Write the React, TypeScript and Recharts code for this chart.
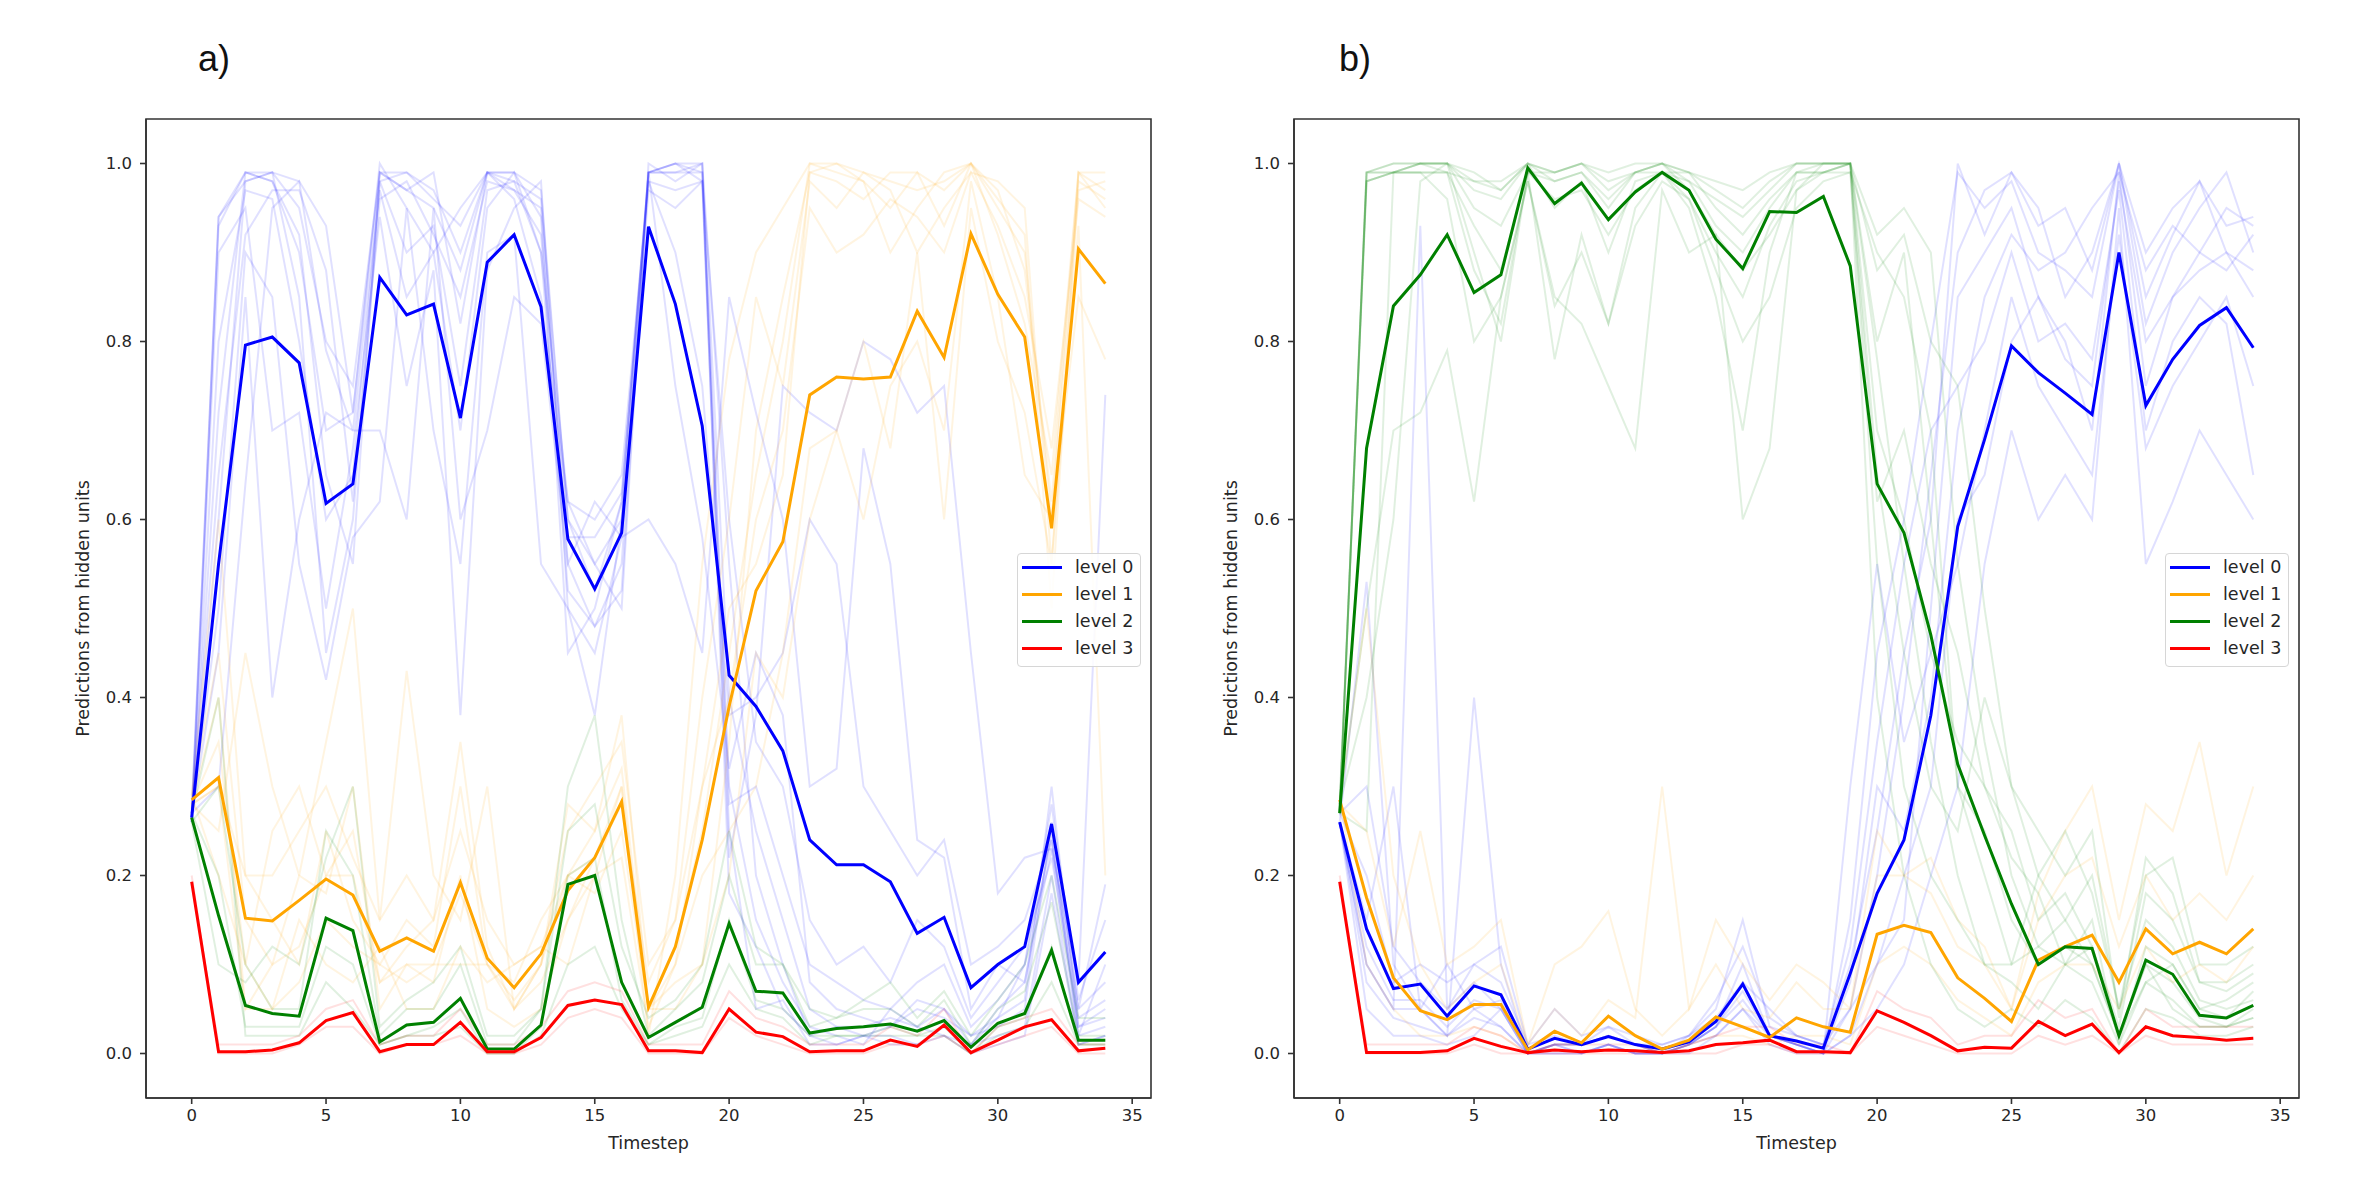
import { LineChart, Line, XAxis, YAxis, ReferenceArea } from "recharts";

// time steps 0..34
const STEPS = Array.from({ length: 35 }, (_, i) => i);
const X_TICKS = [0, 5, 10, 15, 20, 25, 30, 35];
const Y_TICKS = [0, 0.2, 0.4, 0.6, 0.8, 1.0];
const LEVELS = ["level 0", "level 1", "level 2", "level 3"];
const COLORS = ["#0000ff", "#ffa500", "#008000", "#ff0000"];

// ---- panel a) mean predictions ----
const A_L0 = [0.265, 0.55, 0.796, 0.805, 0.776, 0.618, 0.64, 0.872, 0.83, 0.842, 0.714, 0.889, 0.92, 0.839, 0.578, 0.522, 0.585, 0.929, 0.842, 0.705, 0.425, 0.39, 0.34, 0.24, 0.212, 0.212, 0.193, 0.135, 0.153, 0.074, 0.1, 0.12, 0.258, 0.08, 0.114];
const A_L1 = [0.285, 0.31, 0.152, 0.149, 0.172, 0.196, 0.178, 0.115, 0.13, 0.115, 0.192, 0.107, 0.074, 0.112, 0.183, 0.22, 0.283, 0.052, 0.12, 0.24, 0.39, 0.52, 0.575, 0.74, 0.76, 0.758, 0.76, 0.834, 0.782, 0.921, 0.853, 0.805, 0.59, 0.904, 0.865];
const A_L2 = [0.265, 0.155, 0.054, 0.045, 0.042, 0.152, 0.138, 0.013, 0.032, 0.035, 0.062, 0.005, 0.005, 0.032, 0.19, 0.2, 0.08, 0.018, 0.035, 0.052, 0.146, 0.07, 0.068, 0.023, 0.028, 0.03, 0.033, 0.025, 0.037, 0.007, 0.034, 0.045, 0.116, 0.015, 0.015];
const A_L3 = [0.193, 0.002, 0.002, 0.004, 0.012, 0.037, 0.046, 0.002, 0.01, 0.01, 0.035, 0.002, 0.002, 0.018, 0.054, 0.06, 0.055, 0.003, 0.003, 0.001, 0.05, 0.024, 0.019, 0.002, 0.003, 0.003, 0.015, 0.008, 0.032, 0.001, 0.015, 0.03, 0.038, 0.003, 0.006];

// ---- panel a) individual hidden units ----
const A_L0_UNITS = [
  [0.27, 0.94, 0.99, 0.98, 0.9, 0.7, 0.72, 0.99, 0.97, 0.95, 0.88, 0.99, 0.98, 0.96, 0.6, 0.52, 0.62, 0.99, 0.99, 1.0, 0.55, 0.2, 0.1, 0.02, 0.01, 0.02, 0.02, 0.01, 0.03, 0.01, 0.02, 0.03, 0.2, 0.01, 0.02],
  [0.26, 0.6, 0.98, 0.99, 0.85, 0.45, 0.6, 0.98, 0.99, 0.96, 0.93, 0.99, 0.97, 0.95, 0.55, 0.48, 0.55, 0.99, 1.0, 0.99, 0.3, 0.15, 0.08, 0.03, 0.02, 0.01, 0.05, 0.03, 0.02, 0.01, 0.05, 0.08, 0.25, 0.02, 0.03],
  [0.27, 0.3, 0.64, 0.95, 0.98, 0.79, 0.7, 0.97, 0.85, 0.9, 0.7, 0.95, 0.99, 0.9, 0.62, 0.6, 0.65, 0.98, 0.9, 0.75, 0.38, 0.4, 0.45, 0.6, 0.55, 0.3, 0.25, 0.2, 0.24, 0.1, 0.12, 0.15, 0.24, 0.05, 0.19],
  [0.26, 0.9, 0.95, 0.7, 0.72, 0.5, 0.68, 0.94, 0.75, 0.88, 0.38, 0.88, 0.95, 0.98, 0.5, 0.45, 0.58, 0.97, 0.95, 0.98, 0.25, 0.05, 0.06, 0.01, 0.01, 0.02, 0.01, 0.01, 0.02, 0.0, 0.01, 0.02, 0.18, 0.01, 0.02],
  [0.27, 0.45, 0.85, 0.4, 0.6, 0.72, 0.7, 0.7, 0.6, 0.95, 0.6, 0.7, 0.85, 0.82, 0.55, 0.62, 0.58, 0.6, 0.55, 0.45, 0.85, 0.72, 0.6, 0.3, 0.32, 0.68, 0.55, 0.24, 0.22, 0.05, 0.1, 0.08, 0.23, 0.02, 0.1],
  [0.26, 0.93, 0.99, 0.99, 0.98, 0.93, 0.72, 1.0, 0.95, 0.9, 0.95, 0.99, 0.96, 0.85, 0.62, 0.55, 0.5, 1.0, 0.98, 1.0, 0.18, 0.12, 0.05, 0.02, 0.03, 0.02, 0.03, 0.05, 0.04, 0.02, 0.03, 0.05, 0.26, 0.05, 0.08],
  [0.27, 0.5, 0.9, 0.85, 0.55, 0.42, 0.58, 0.62, 0.95, 0.7, 0.55, 0.9, 0.92, 0.55, 0.5, 0.38, 0.6, 0.99, 0.75, 0.58, 0.32, 0.45, 0.38, 0.08, 0.05, 0.04, 0.03, 0.06, 0.05, 0.02, 0.04, 0.1, 0.24, 0.03, 0.04],
  [0.26, 0.72, 0.99, 0.98, 0.92, 0.65, 0.55, 0.99, 0.97, 0.99, 0.82, 0.99, 0.99, 0.94, 0.45, 0.5, 0.62, 0.99, 1.0, 0.98, 0.22, 0.38, 0.75, 0.72, 0.7, 0.8, 0.78, 0.72, 0.75, 0.45, 0.18, 0.22, 0.23, 0.08, 0.74],
  [0.27, 0.94, 0.98, 0.99, 0.95, 0.8, 0.75, 0.99, 0.99, 0.97, 0.9, 0.99, 0.99, 0.97, 0.6, 0.55, 0.6, 0.99, 1.0, 1.0, 0.4, 0.25, 0.15, 0.05, 0.03, 0.03, 0.04, 0.03, 0.05, 0.01, 0.04, 0.06, 0.3, 0.03, 0.05],
  [0.26, 0.8, 0.97, 0.96, 0.8, 0.6, 0.65, 0.98, 0.9, 0.93, 0.75, 0.97, 0.98, 0.9, 0.52, 0.48, 0.52, 0.99, 0.99, 0.99, 0.28, 0.3, 0.2, 0.1, 0.08, 0.06, 0.05, 0.08, 0.1, 0.03, 0.06, 0.1, 0.28, 0.06, 0.15],
  [0.27, 0.65, 0.92, 0.97, 0.97, 0.88, 0.62, 0.96, 0.98, 0.92, 0.85, 0.98, 0.97, 0.92, 0.58, 0.58, 0.63, 0.98, 0.97, 0.98, 0.6, 0.35, 0.3, 0.15, 0.1, 0.12, 0.08, 0.15, 0.12, 0.04, 0.08, 0.12, 0.22, 0.04, 0.06],
];
const A_L1_UNITS = [
  [0.28, 0.3, 0.05, 0.1, 0.2, 0.18, 0.3, 0.05, 0.1, 0.08, 0.2, 0.05, 0.03, 0.05, 0.15, 0.2, 0.3, 0.02, 0.2, 0.55, 0.78, 0.9, 0.95, 1.0, 0.99, 0.98, 0.95, 0.99, 0.93, 1.0, 0.95, 0.9, 0.6, 0.98, 0.96],
  [0.29, 0.6, 0.2, 0.15, 0.1, 0.25, 0.15, 0.1, 0.15, 0.12, 0.3, 0.1, 0.08, 0.15, 0.2, 0.18, 0.25, 0.05, 0.05, 0.1, 0.35, 0.7, 0.85, 0.99, 1.0, 0.98, 0.9, 0.95, 0.99, 1.0, 0.92, 0.82, 0.65, 0.99, 0.95],
  [0.28, 0.25, 0.45, 0.3, 0.2, 0.35, 0.5, 0.15, 0.43, 0.2, 0.15, 0.3, 0.05, 0.1, 0.25, 0.3, 0.35, 0.1, 0.15, 0.4, 0.6, 0.85, 0.75, 0.98, 0.95, 0.99, 0.97, 0.9, 0.95, 0.99, 0.98, 0.95, 0.55, 0.97, 0.98],
  [0.28, 0.35, 0.1, 0.05, 0.15, 0.1, 0.08, 0.12, 0.05, 0.05, 0.12, 0.08, 0.1, 0.12, 0.1, 0.2, 0.22, 0.03, 0.1, 0.2, 0.25, 0.3, 0.45, 0.68, 0.7, 0.6, 0.75, 0.8, 0.7, 0.98, 0.85, 0.65, 0.6, 0.85, 0.78],
  [0.29, 0.2, 0.1, 0.25, 0.3, 0.2, 0.25, 0.08, 0.12, 0.15, 0.35, 0.12, 0.05, 0.1, 0.28, 0.25, 0.38, 0.05, 0.1, 0.3, 0.5, 0.55, 0.65, 0.99, 0.98, 0.96, 0.99, 0.99, 0.97, 1.0, 0.96, 0.92, 0.5, 0.99, 0.99],
  [0.28, 0.4, 0.05, 0.05, 0.08, 0.15, 0.12, 0.1, 0.08, 0.1, 0.1, 0.1, 0.05, 0.08, 0.15, 0.22, 0.3, 0.05, 0.08, 0.1, 0.2, 0.45, 0.4, 0.6, 0.7, 0.8, 0.68, 0.9, 0.6, 0.95, 0.8, 0.72, 0.55, 0.93, 0.2],
  [0.29, 0.45, 0.15, 0.1, 0.12, 0.2, 0.2, 0.08, 0.1, 0.1, 0.18, 0.1, 0.06, 0.1, 0.2, 0.25, 0.32, 0.05, 0.12, 0.25, 0.45, 0.65, 0.8, 1.0, 1.0, 0.99, 0.98, 0.97, 0.98, 1.0, 0.97, 0.88, 0.62, 0.99, 0.97],
  [0.28, 0.3, 0.2, 0.2, 0.25, 0.3, 0.22, 0.15, 0.2, 0.15, 0.25, 0.15, 0.1, 0.12, 0.2, 0.22, 0.28, 0.08, 0.15, 0.3, 0.4, 0.6, 0.7, 0.95, 0.9, 0.92, 0.96, 0.94, 0.9, 0.99, 0.93, 0.85, 0.68, 0.96, 0.94],
];
const A_L2_UNITS = [
  [0.26, 0.3, 0.1, 0.05, 0.05, 0.25, 0.2, 0.02, 0.05, 0.05, 0.1, 0.01, 0.01, 0.05, 0.3, 0.38, 0.15, 0.02, 0.05, 0.08, 0.2, 0.1, 0.1, 0.03, 0.04, 0.05, 0.05, 0.03, 0.06, 0.01, 0.05, 0.07, 0.17, 0.02, 0.02],
  [0.27, 0.4, 0.02, 0.02, 0.02, 0.08, 0.05, 0.01, 0.02, 0.02, 0.03, 0.0, 0.0, 0.02, 0.1, 0.12, 0.05, 0.01, 0.02, 0.03, 0.1, 0.05, 0.04, 0.01, 0.02, 0.02, 0.02, 0.02, 0.02, 0.0, 0.02, 0.03, 0.08, 0.01, 0.01],
  [0.26, 0.1, 0.08, 0.12, 0.1, 0.22, 0.3, 0.03, 0.06, 0.08, 0.12, 0.02, 0.02, 0.05, 0.25, 0.28, 0.12, 0.04, 0.06, 0.1, 0.25, 0.12, 0.1, 0.05, 0.04, 0.06, 0.08, 0.04, 0.07, 0.02, 0.06, 0.1, 0.2, 0.04, 0.04],
  [0.27, 0.2, 0.03, 0.03, 0.03, 0.12, 0.1, 0.01, 0.02, 0.03, 0.05, 0.0, 0.0, 0.03, 0.2, 0.22, 0.06, 0.01, 0.03, 0.04, 0.15, 0.06, 0.05, 0.02, 0.02, 0.02, 0.03, 0.02, 0.03, 0.0, 0.03, 0.04, 0.12, 0.01, 0.01],
];
const A_L3_UNITS = [
  [0.19, 0.01, 0.01, 0.01, 0.02, 0.05, 0.06, 0.01, 0.02, 0.02, 0.05, 0.01, 0.01, 0.03, 0.07, 0.08, 0.07, 0.01, 0.01, 0.01, 0.07, 0.04, 0.03, 0.01, 0.01, 0.01, 0.03, 0.02, 0.05, 0.0, 0.03, 0.04, 0.05, 0.01, 0.01],
  [0.2, 0.0, 0.0, 0.0, 0.01, 0.03, 0.03, 0.0, 0.01, 0.01, 0.02, 0.0, 0.0, 0.01, 0.04, 0.05, 0.04, 0.0, 0.0, 0.0, 0.04, 0.02, 0.01, 0.0, 0.0, 0.0, 0.01, 0.01, 0.02, 0.0, 0.01, 0.02, 0.03, 0.0, 0.0],
];

// ---- panel b) mean predictions ----
const B_L0 = [0.26, 0.14, 0.073, 0.078, 0.042, 0.076, 0.066, 0.005, 0.017, 0.01, 0.019, 0.01, 0.005, 0.013, 0.036, 0.078, 0.02, 0.014, 0.006, 0.09, 0.18, 0.24, 0.38, 0.592, 0.69, 0.795, 0.765, 0.742, 0.718, 0.9, 0.728, 0.78, 0.818, 0.838, 0.793];
const B_L1 = [0.285, 0.175, 0.085, 0.048, 0.038, 0.055, 0.055, 0.004, 0.025, 0.012, 0.042, 0.02, 0.005, 0.015, 0.041, 0.03, 0.018, 0.04, 0.03, 0.024, 0.134, 0.144, 0.136, 0.085, 0.062, 0.036, 0.105, 0.12, 0.133, 0.08, 0.14, 0.112, 0.125, 0.112, 0.14];
const B_L2 = [0.27, 0.68, 0.84, 0.875, 0.92, 0.855, 0.875, 0.995, 0.955, 0.978, 0.937, 0.968, 0.99, 0.97, 0.915, 0.882, 0.946, 0.945, 0.963, 0.885, 0.64, 0.585, 0.47, 0.325, 0.245, 0.168, 0.1, 0.12, 0.118, 0.02, 0.105, 0.089, 0.043, 0.04, 0.054];
const B_L3 = [0.193, 0.001, 0.001, 0.001, 0.003, 0.017, 0.008, 0.001, 0.004, 0.002, 0.004, 0.003, 0.001, 0.003, 0.01, 0.012, 0.015, 0.002, 0.002, 0.001, 0.048, 0.035, 0.02, 0.003, 0.007, 0.006, 0.036, 0.02, 0.033, 0.001, 0.03, 0.02, 0.018, 0.015, 0.017];

// ---- panel b) individual hidden units ----
const B_L0_UNITS = [
  [0.26, 0.1, 0.05, 0.93, 0.05, 0.08, 0.05, 0.0, 0.01, 0.0, 0.01, 0.0, 0.0, 0.01, 0.03, 0.1, 0.02, 0.01, 0.0, 0.15, 0.45, 0.6, 0.8, 0.99, 0.95, 0.98, 0.9, 0.88, 0.85, 1.0, 0.82, 0.9, 0.95, 0.99, 0.9],
  [0.26, 0.53, 0.1, 0.05, 0.02, 0.4, 0.1, 0.0, 0.01, 0.01, 0.02, 0.01, 0.0, 0.02, 0.05, 0.15, 0.03, 0.02, 0.01, 0.05, 0.1, 0.15, 0.5, 0.85, 0.9, 0.95, 0.85, 0.78, 0.75, 0.98, 0.8, 0.85, 0.88, 0.9, 0.85],
  [0.26, 0.05, 0.02, 0.02, 0.01, 0.02, 0.05, 0.0, 0.0, 0.0, 0.01, 0.0, 0.0, 0.0, 0.02, 0.05, 0.01, 0.0, 0.0, 0.02, 0.05, 0.1, 0.2, 0.3, 0.55, 0.7, 0.6, 0.65, 0.6, 0.95, 0.55, 0.62, 0.7, 0.65, 0.6],
  [0.27, 0.2, 0.08, 0.1, 0.08, 0.1, 0.12, 0.01, 0.05, 0.02, 0.03, 0.02, 0.01, 0.02, 0.04, 0.08, 0.05, 0.02, 0.01, 0.1, 0.25, 0.45, 0.6, 1.0, 0.92, 0.99, 0.95, 0.85, 0.9, 1.0, 0.9, 0.95, 0.98, 0.93, 0.94],
  [0.26, 0.15, 0.3, 0.05, 0.1, 0.05, 0.06, 0.0, 0.01, 0.01, 0.02, 0.01, 0.0, 0.01, 0.03, 0.08, 0.02, 0.01, 0.0, 0.3, 0.55, 0.35, 0.45, 0.55, 0.7, 0.85, 0.75, 0.7, 0.65, 0.92, 0.68, 0.75, 0.8, 0.85, 0.75],
  [0.26, 0.1, 0.05, 0.05, 0.02, 0.05, 0.03, 0.0, 0.0, 0.0, 0.01, 0.0, 0.0, 0.01, 0.02, 0.05, 0.02, 0.01, 0.0, 0.02, 0.1, 0.2, 0.3, 0.6, 0.65, 0.8, 0.85, 0.8, 0.7, 0.99, 0.75, 0.85, 0.9, 0.88, 0.92],
  [0.26, 0.08, 0.04, 0.03, 0.02, 0.04, 0.03, 0.0, 0.01, 0.0, 0.01, 0.0, 0.0, 0.01, 0.03, 0.06, 0.02, 0.01, 0.0, 0.05, 0.2, 0.4, 0.65, 0.9, 0.97, 0.99, 0.93, 0.95, 0.88, 1.0, 0.85, 0.92, 0.98, 0.9, 0.88],
  [0.27, 0.3, 0.12, 0.08, 0.05, 0.1, 0.08, 0.01, 0.02, 0.01, 0.03, 0.01, 0.01, 0.02, 0.06, 0.12, 0.04, 0.02, 0.01, 0.12, 0.35, 0.55, 0.7, 0.75, 0.8, 0.9, 0.8, 0.82, 0.78, 0.97, 0.7, 0.8, 0.85, 0.82, 0.65],
  [0.26, 0.12, 0.06, 0.06, 0.03, 0.06, 0.05, 0.0, 0.01, 0.01, 0.02, 0.01, 0.0, 0.01, 0.03, 0.07, 0.02, 0.01, 0.0, 0.08, 0.3, 0.25, 0.4, 0.7, 0.85, 0.92, 0.88, 0.9, 0.95, 0.99, 0.88, 0.93, 0.9, 0.95, 0.93],
];
const B_L1_UNITS = [
  [0.28, 0.5, 0.2, 0.1, 0.05, 0.08, 0.1, 0.01, 0.05, 0.02, 0.06, 0.04, 0.3, 0.05, 0.1, 0.05, 0.04, 0.08, 0.05, 0.05, 0.2, 0.2, 0.18, 0.12, 0.1, 0.05, 0.15, 0.2, 0.22, 0.12, 0.2, 0.15, 0.18, 0.15, 0.2],
  [0.29, 0.1, 0.05, 0.02, 0.02, 0.03, 0.02, 0.0, 0.01, 0.01, 0.02, 0.01, 0.0, 0.01, 0.02, 0.02, 0.01, 0.02, 0.02, 0.01, 0.1, 0.12, 0.1, 0.06, 0.04, 0.02, 0.08, 0.1, 0.1, 0.05, 0.12, 0.08, 0.1, 0.08, 0.12],
  [0.28, 0.25, 0.12, 0.25, 0.1, 0.12, 0.15, 0.01, 0.1, 0.12, 0.16, 0.05, 0.02, 0.05, 0.15, 0.1, 0.06, 0.1, 0.08, 0.05, 0.25, 0.2, 0.22, 0.15, 0.12, 0.05, 0.18, 0.25, 0.3, 0.15, 0.28, 0.25, 0.35, 0.2, 0.3],
];
const B_L2_UNITS = [
  [0.27, 0.99, 1.0, 1.0, 1.0, 0.97, 0.96, 1.0, 0.99, 1.0, 0.97, 0.99, 1.0, 0.99, 0.97, 0.95, 0.98, 1.0, 1.0, 1.0, 0.8, 0.9, 0.6, 0.3, 0.25, 0.15, 0.1, 0.12, 0.1, 0.02, 0.1, 0.08, 0.04, 0.03, 0.05],
  [0.28, 0.98, 0.99, 1.0, 1.0, 0.9, 0.8, 0.99, 0.98, 0.99, 0.95, 0.99, 0.99, 0.98, 0.93, 0.9, 0.95, 0.99, 1.0, 1.0, 0.55, 0.3, 0.2, 0.15, 0.1, 0.08, 0.05, 0.1, 0.15, 0.01, 0.12, 0.1, 0.05, 0.06, 0.08],
  [0.27, 0.25, 0.99, 1.0, 0.99, 0.98, 0.97, 1.0, 0.95, 0.98, 0.9, 0.98, 0.99, 0.99, 0.95, 0.92, 0.96, 0.99, 0.99, 1.0, 0.88, 0.92, 0.8, 0.75, 0.5, 0.3, 0.2, 0.15, 0.2, 0.05, 0.15, 0.12, 0.06, 0.05, 0.06],
  [0.27, 0.99, 0.99, 0.99, 0.99, 0.93, 0.88, 0.99, 0.78, 0.92, 0.82, 0.95, 0.99, 0.95, 0.85, 0.7, 0.9, 0.99, 0.99, 1.0, 0.4, 0.2, 0.1, 0.05, 0.03, 0.05, 0.03, 0.06, 0.04, 0.0, 0.05, 0.04, 0.02, 0.02, 0.03],
  [0.28, 0.4, 0.6, 0.98, 1.0, 0.95, 0.93, 0.99, 0.99, 1.0, 0.98, 0.99, 1.0, 0.97, 0.92, 0.88, 0.92, 0.97, 1.0, 1.0, 0.7, 0.6, 0.45, 0.35, 0.3, 0.25, 0.15, 0.18, 0.12, 0.03, 0.18, 0.15, 0.08, 0.08, 0.1],
  [0.27, 0.98, 0.99, 0.99, 0.96, 0.8, 0.85, 0.98, 0.85, 0.82, 0.75, 0.68, 0.97, 0.9, 0.92, 0.6, 0.68, 0.97, 0.99, 0.99, 0.9, 0.85, 0.7, 0.3, 0.2, 0.1, 0.12, 0.15, 0.1, 0.02, 0.08, 0.1, 0.05, 0.04, 0.07],
  [0.27, 0.99, 1.0, 1.0, 1.0, 0.98, 0.98, 1.0, 0.99, 1.0, 0.99, 1.0, 1.0, 0.99, 0.98, 0.97, 0.99, 1.0, 1.0, 1.0, 0.78, 0.55, 0.35, 0.2, 0.1, 0.1, 0.2, 0.25, 0.18, 0.05, 0.2, 0.22, 0.1, 0.1, 0.12],
  [0.28, 0.5, 0.7, 0.72, 0.79, 0.62, 0.85, 0.98, 0.84, 0.9, 0.82, 0.93, 0.98, 0.96, 0.88, 0.8, 0.85, 0.95, 0.98, 0.99, 0.62, 0.7, 0.55, 0.45, 0.3, 0.22, 0.18, 0.1, 0.12, 0.02, 0.1, 0.05, 0.03, 0.03, 0.04],
  [0.27, 0.99, 0.99, 1.0, 1.0, 0.99, 0.97, 1.0, 0.98, 0.99, 0.96, 0.99, 1.0, 0.98, 0.96, 0.94, 0.97, 1.0, 1.0, 1.0, 0.92, 0.95, 0.9, 0.55, 0.35, 0.2, 0.12, 0.1, 0.08, 0.01, 0.08, 0.06, 0.03, 0.03, 0.04],
  [0.28, 0.98, 0.99, 0.99, 0.99, 0.88, 0.82, 0.99, 0.96, 0.97, 0.92, 0.97, 0.99, 0.96, 0.9, 0.85, 0.93, 0.98, 0.99, 1.0, 0.65, 0.45, 0.3, 0.25, 0.4, 0.3, 0.25, 0.2, 0.25, 0.04, 0.22, 0.18, 0.08, 0.07, 0.09],
];
const B_L3_UNITS = [
  [0.19, 0.01, 0.01, 0.01, 0.01, 0.03, 0.02, 0.0, 0.01, 0.01, 0.01, 0.01, 0.0, 0.01, 0.02, 0.03, 0.03, 0.01, 0.01, 0.0, 0.07, 0.05, 0.04, 0.01, 0.02, 0.02, 0.06, 0.04, 0.05, 0.0, 0.05, 0.03, 0.03, 0.03, 0.03],
  [0.2, 0.0, 0.0, 0.0, 0.0, 0.01, 0.0, 0.0, 0.0, 0.0, 0.0, 0.0, 0.0, 0.0, 0.0, 0.01, 0.01, 0.0, 0.0, 0.0, 0.03, 0.02, 0.01, 0.0, 0.0, 0.0, 0.02, 0.01, 0.02, 0.0, 0.02, 0.01, 0.01, 0.01, 0.01],
];

const FONT = "'DejaVu Sans', sans-serif";
const INK = "#262626";
const CHART_W = 1190;
const CHART_H = 1194;

type PanelProps = {
  tag: string;
  tagLeft: number;
  left: number;
  means: number[][];
  units: number[][][];
};

function buildRows(means: number[][], units: number[][][]) {
  return STEPS.map((t) => {
    const row: Record<string, number> = { t };
    means.forEach((s, lvl) => {
      row[`m${lvl}`] = s[t];
    });
    units.forEach((group, lvl) =>
      group.forEach((s, k) => {
        row[`u${lvl}_${k}`] = s[t];
      })
    );
    return row;
  });
}

function YTitle({ viewBox }: any) {
  const x = 89;
  const y = viewBox.y + viewBox.height / 2;
  return (
    <text
      x={x}
      y={y}
      transform={`rotate(-90 ${x} ${y})`}
      textAnchor="middle"
      fontFamily={FONT}
      fontSize={17.5}
      fill={INK}
    >
      Predictions from hidden units
    </text>
  );
}

function Panel({ tag, tagLeft, left, means, units }: PanelProps) {
  const rows = buildRows(means, units);
  const tickStyle = { fontSize: 16.5, fill: INK, fontFamily: FONT };
  return (
    <div style={{ position: "absolute", left, top: 0, width: CHART_W, height: CHART_H }}>
      <div
        style={{
          position: "absolute",
          left: tagLeft,
          top: 38,
          fontFamily: "'Liberation Sans', Arial, sans-serif",
          fontSize: 36,
          color: "#111",
        }}
      >
        {tag}
      </div>
      <LineChart
        width={CHART_W}
        height={CHART_H}
        data={rows}
        margin={{ top: 119, right: 39, bottom: 0, left: 0 }}
      >
        <XAxis
          dataKey="t"
          type="number"
          domain={[-1.7, 35.7]}
          allowDataOverflow
          ticks={X_TICKS}
          height={96}
          tick={tickStyle}
          tickSize={6}
          tickMargin={5}
          stroke="#333"
          strokeWidth={1.6}
          label={{
            value: "Timestep",
            position: "insideBottom",
            offset: 45,
            fontFamily: FONT,
            fontSize: 17.5,
            fill: INK,
          }}
        />
        <YAxis
          type="number"
          domain={[-0.05, 1.05]}
          allowDataOverflow
          ticks={Y_TICKS}
          width={146}
          tick={tickStyle}
          tickSize={6}
          tickMargin={8}
          tickFormatter={(v: number) => v.toFixed(1)}
          stroke="#333"
          strokeWidth={1.6}
          label={{ content: YTitle }}
        />
        {units.map((group, lvl) =>
          group.map((_, k) => (
            <Line
              key={`u${lvl}_${k}`}
              dataKey={`u${lvl}_${k}`}
              type="linear"
              dot={false}
              activeDot={false}
              stroke={COLORS[lvl]}
              strokeOpacity={0.12}
              strokeWidth={2}
              isAnimationActive={false}
            />
          ))
        )}
        {means.map((_, lvl) => (
          <Line
            key={`m${lvl}`}
            dataKey={`m${lvl}`}
            type="linear"
            dot={false}
            activeDot={false}
            stroke={COLORS[lvl]}
            strokeWidth={3}
            isAnimationActive={false}
          />
        ))}
        <ReferenceArea
          x1={-1.7}
          x2={35.7}
          y1={-0.05}
          y2={1.05}
          fill="none"
          fillOpacity={0}
          stroke="#333"
          strokeWidth={1.6}
        />
      </LineChart>
      <LegendBox />
    </div>
  );
}

function LegendBox() {
  return (
    <div
      style={{
        position: "absolute",
        left: 1017,
        top: 553,
        width: 124,
        height: 114,
        boxSizing: "border-box",
        border: "1px solid #d6d6d6",
        borderRadius: 4,
        background: "rgba(255,255,255,0.85)",
      }}
    >
      {LEVELS.map((name, i) => (
        <div
          key={name}
          style={{ position: "absolute", left: 0, top: i * 27, height: 26, width: 122 }}
        >
          <div
            style={{
              position: "absolute",
              left: 4,
              top: 12,
              width: 40,
              height: 3,
              background: COLORS[i],
            }}
          />
          <div
            style={{
              position: "absolute",
              left: 57,
              top: 1,
              lineHeight: "24px",
              fontFamily: FONT,
              fontSize: 17.5,
              color: INK,
              whiteSpace: "nowrap",
            }}
          >
            {name}
          </div>
        </div>
      ))}
    </div>
  );
}

export default function App() {
  return (
    <div
      style={{
        position: "absolute",
        left: 0,
        top: 0,
        width: 2380,
        height: 1194,
        background: "#fff",
        overflow: "hidden",
      }}
    >
      <Panel tag="a)" tagLeft={198} left={0} means={[A_L0, A_L1, A_L2, A_L3]} units={[A_L0_UNITS, A_L1_UNITS, A_L2_UNITS, A_L3_UNITS]} />
      <Panel tag="b)" tagLeft={191} left={1148} means={[B_L0, B_L1, B_L2, B_L3]} units={[B_L0_UNITS, B_L1_UNITS, B_L2_UNITS, B_L3_UNITS]} />
    </div>
  );
}
